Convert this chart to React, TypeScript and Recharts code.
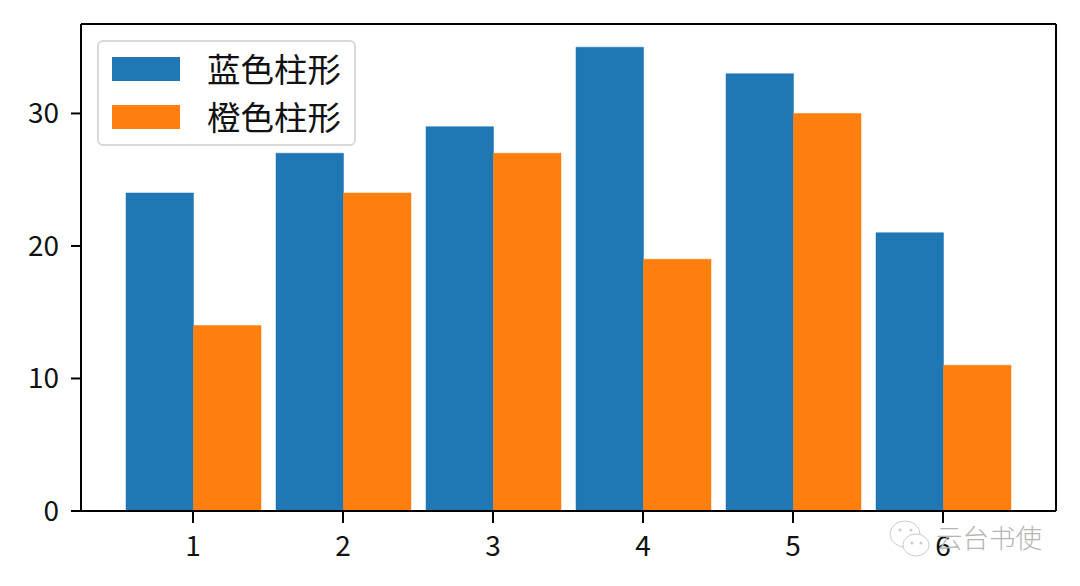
import { BarChart, Bar, XAxis, YAxis, Legend } from "recharts";

const categories = ["1", "2", "3", "4", "5", "6"];
const blueValues = [24, 27, 29, 35, 33, 21];
const orangeValues = [14, 24, 27, 19, 30, 11];
const yTicks = [0, 10, 20, 30];
const seriesNames = ["蓝色柱形", "橙色柱形"];
const seriesColors = ["#1f77b4", "#ff7f0e"];

const data = categories.map((c, i) => ({
  name: c,
  blue: blueValues[i],
  orange: orangeValues[i],
}));

const FONT = '"Noto Sans CJK SC", sans-serif';
const tickStyle = { fontSize: 28, fill: "#111", fontFamily: FONT };
const axisLine = { stroke: "#000", strokeWidth: 2 };
const tickLine = { stroke: "#000", strokeWidth: 2 };

function ChartLegend() {
  return (
    <div
      style={{
        width: 259,
        height: 106,
        boxSizing: "border-box",
        border: "2px solid #d9d9d9",
        borderRadius: 6,
        background: "rgba(255,255,255,0.8)",
        position: "relative",
      }}
    >
      {seriesNames.map((name, i) => (
        <div
          key={name}
          style={{
            position: "absolute",
            left: 13,
            top: 15 + i * 48,
            display: "flex",
            alignItems: "center",
            height: 24,
          }}
        >
          <div style={{ width: 68, height: 24, background: seriesColors[i] }} />
          <span
            style={{
              marginLeft: 27,
              fontSize: 33.5,
              lineHeight: "24px",
              color: "#111",
              fontFamily: FONT,
              whiteSpace: "nowrap",
              position: "relative",
              top: -1,
            }}
          >
            {name}
          </span>
        </div>
      ))}
    </div>
  );
}

function Watermark() {
  return (
    <div
      style={{
        position: "absolute",
        left: 886,
        top: 515,
        width: 170,
        height: 48,
        display: "flex",
        alignItems: "center",
      }}
    >
      <svg width="46" height="44" viewBox="0 0 46 44">
        <ellipse cx="19" cy="17" rx="15" ry="13" fill="#fff" stroke="#ccc" strokeWidth="1" />
        <ellipse cx="30" cy="28" rx="13" ry="11" fill="#fff" stroke="#ccc" strokeWidth="1" />
        <circle cx="14" cy="13" r="1.5" fill="#ccc" />
        <circle cx="25" cy="13" r="1.5" fill="#ccc" />
        <circle cx="26" cy="26" r="1.5" fill="#ccc" />
        <circle cx="35" cy="26" r="1.5" fill="#ccc" />
      </svg>
      <span
        style={{
          marginLeft: 4,
          fontSize: 26.5,
          color: "#b5b5b5",
          fontFamily: FONT,
          fontWeight: 300,
          whiteSpace: "nowrap",
          position: "relative",
          top: -3,
        }}
      >
        云台书使
      </span>
    </div>
  );
}

export default function App() {
  return (
    <div style={{ position: "absolute", left: 0, top: 0, width: 1080, height: 586, background: "#fff" }}>
      <BarChart
        width={1080}
        height={586}
        data={data}
        barSize={67.5}
        barGap={0}
        margin={{ top: 23, right: 23, bottom: 15, left: 0 }}
      >
        <XAxis
          dataKey="name"
          padding={{ left: 37, right: 38 }}
          height={60}
          axisLine={axisLine}
          tickLine={tickLine}
          tickSize={12}
          tickMargin={13}
          tick={tickStyle}
          interval={0}
        />
        <XAxis xAxisId="top" orientation="top" dataKey="name" height={1} tick={false} tickLine={false} axisLine={axisLine} />
        <YAxis
          domain={[0, 36.75]}
          ticks={yTicks}
          width={81}
          axisLine={axisLine}
          tickLine={tickLine}
          tickSize={10}
          tickMargin={12}
          tick={tickStyle}
          interval={0}
        />
        <YAxis yAxisId="right" orientation="right" width={1} tick={false} tickLine={false} axisLine={axisLine} />
        <Legend
          layout="vertical"
          align="center"
          verticalAlign="middle"
          content={<ChartLegend />}
          wrapperStyle={{ position: "absolute", left: 97, top: 40, width: 259, height: 106 }}
        />
        <Bar dataKey="blue" name={seriesNames[0]} fill={seriesColors[0]} stroke={seriesColors[0]} strokeWidth={0.5} isAnimationActive={false} />
        <Bar dataKey="orange" name={seriesNames[1]} fill={seriesColors[1]} stroke={seriesColors[1]} strokeWidth={0.5} isAnimationActive={false} />
      </BarChart>
      <Watermark />
    </div>
  );
}
